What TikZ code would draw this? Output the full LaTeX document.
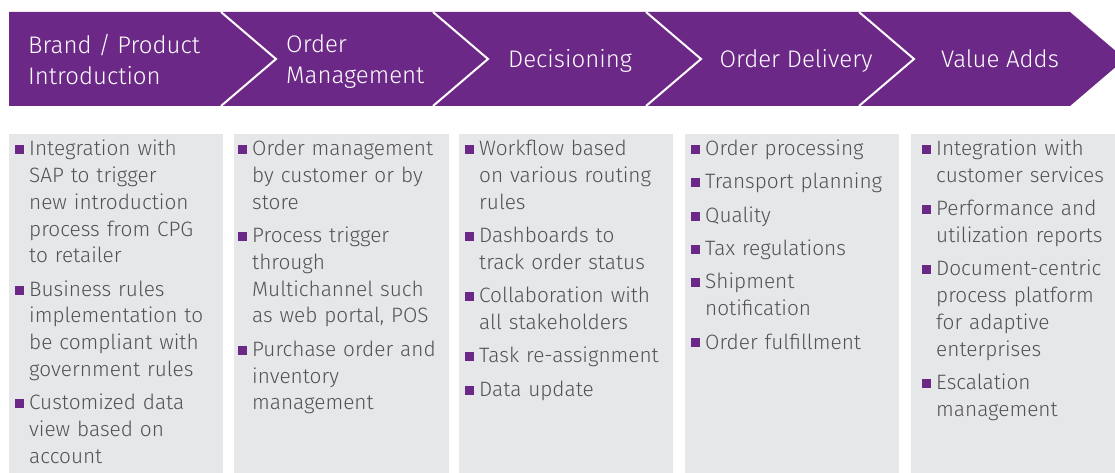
\documentclass[tikz,border=0pt]{standalone}
\usepackage{fontspec}
\setmainfont{Fira Sans Light}
\usetikzlibrary{positioning}
\definecolor{bandpurple}{RGB}{108,40,135}
\definecolor{boxgray}{RGB}{230,231,232}
\definecolor{textgray}{RGB}{82,82,84}
\newcommand{\itm}[1]{\hangindent=14pt\hangafter=1\noindent\makebox[14pt][l]{\textcolor{bandpurple}{\rule[1.5pt]{9pt}{9pt}}}#1\par}

\begin{document}
\begin{tikzpicture}[x=1pt,y=-1pt,
    stage/.style={text=white,font=\fontsize{24}{31}\selectfont,inner sep=0pt,align=left}]
\useasboundingbox (0,0) rectangle (1115,473);
\begin{scope}
  \clip (0,0) rectangle (1115,473);
  \fill[bandpurple] (9,12) -- (1070,12) -- (1125,59) -- (1070,106) -- (9,106) -- cycle;
  \foreach \x in {221,433,646,859}
    \draw[white,line width=2pt] (\x,12) -- (\x+55,59) -- (\x,106);
  \foreach \a/\b in {9/223,234/449,459/673,685/899,911/1120}
    \fill[boxgray] (\a,134) rectangle (\b,480);
\end{scope}
\node[stage,anchor=west] (brand) at (28,59) {Brand / Product\\Introduction};
\node[stage,anchor=west] (order) at (286,62) {Order\\Management};
\node[stage,anchor=base] (decision) at (570,68) {Decisioning};
\node[stage,anchor=base] (delivery) at (796,68) {Order Delivery};
\node[stage,anchor=base] (value) at (1000,68) {Value Adds};
\begin{scope}[every node/.style={text=textgray,font=\fontsize{20.8}{26.8}\selectfont,inner sep=0pt,text width=205pt,align=left,anchor=base west}]
  \node (intro) at (15,155.7) {\setlength{\parskip}{6.5pt}%
    \itm{Integration with\newline SAP to trigger\newline new introduction\newline process from CPG\newline to retailer}%
    \itm{Business rules\newline implementation to\newline be compliant with\newline government rules}%
    \itm{Customized data\newline view based on\newline account}};
  \node (manage) at (238,155.7) {\setlength{\parskip}{6.5pt}%
    \itm{Order management\newline by customer or by\newline store}%
    \itm{Process trigger\newline through\newline Multichannel such\newline as web portal, POS}%
    \itm{Purchase order and\newline inventory\newline management}};
  \node (decide) at (465,155.7) {\setlength{\parskip}{6.5pt}%
    \itm{Workflow based\newline on various routing\newline rules}%
    \itm{Dashboards to\newline track order status}%
    \itm{Collaboration with\newline all stakeholders}%
    \itm{Task re-assignment}%
    \itm{Data update}};
  \node (deliver) at (691,155.7) {\setlength{\parskip}{6.5pt}%
    \itm{Order processing}%
    \itm{Transport planning}%
    \itm{Quality}%
    \itm{Tax regulations}%
    \itm{Shipment\newline notification}%
    \itm{Order fulfillment}};
  \node[text width=192pt] (adds) at (922,155.7) {\setlength{\parskip}{6.5pt}%
    \itm{Integration with\newline customer services}%
    \itm{Performance and\newline utilization reports}%
    \itm{Document-centric\newline process platform\newline for adaptive\newline enterprises}%
    \itm{Escalation\newline management}};
\end{scope}
\end{tikzpicture}
\end{document}
